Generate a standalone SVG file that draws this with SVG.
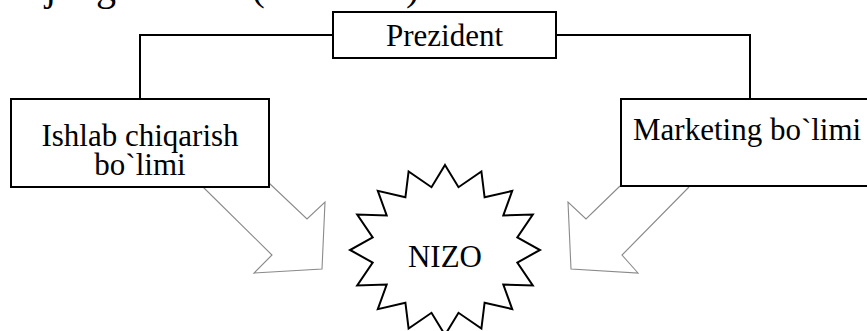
<svg xmlns="http://www.w3.org/2000/svg" width="867" height="331" viewBox="0 0 867 331">
<style>
.box{fill:#fff;stroke:#000;stroke-width:2}
.lbl{font-family:"Liberation Serif","Times New Roman",serif;font-size:31px;fill:#000}
.conn{fill:none;stroke:#000;stroke-width:2}
.arrow{fill:none;stroke:#8a8a8a;stroke-width:1.1;stroke-linejoin:miter}
</style>
<rect width="867" height="331" fill="#fff"/>
<text x="5" y="0" style="font-family:'Liberation Serif','Times New Roman',serif;font-size:40px" fill="#000">vujudga keladi (3.6-rasm).</text>
<g id="connectors">
<polyline class="conn" points="333,35 140,35 140,99"/>
<polyline class="conn" points="556,35 750,35 750,99"/>
<polyline class="arrow" points="203,187 272,255 254,273 322,269 325,202 307,219 269,183"/>
<polyline class="arrow" points="620,186 586,219 568,202 571,269 638,273 622,255 689,187"/>
</g>
<g id="prezident">
<rect class="box" x="333" y="12" width="223" height="46"/>
<text class="lbl" x="444.5" y="46" text-anchor="middle">Prezident</text>
</g>
<g id="ishlab">
<rect class="box" x="11" y="99" width="258" height="88"/>
<text class="lbl" text-anchor="middle"><tspan x="140" y="146">Ishlab chiqarish</tspan><tspan x="140" y="175">bo`limi</tspan></text>
</g>
<g id="marketing">
<rect class="box" x="621" y="99" width="260" height="87"/>
<text class="lbl" x="633" y="140">Marketing bo`limi</text>
</g>
<g id="nizo">
<polygon id="star" fill="#fff" stroke="#000" stroke-width="2" stroke-linejoin="miter" points="445.0,165.0 458.5,187.2 481.4,171.5 484.6,197.3 512.2,190.9 503.3,215.4 532.8,214.5 517.3,237.5 540.0,250.0 517.3,262.5 532.8,285.5 503.3,284.6 512.2,309.1 484.6,302.7 481.4,328.5 458.5,312.8 445.0,335.0 431.5,312.8 408.6,328.5 405.4,302.7 377.8,309.1 386.7,284.6 357.2,285.5 372.7,262.5 350.0,250.0 372.7,237.5 357.2,214.5 386.7,215.4 377.8,190.9 405.4,197.3 408.6,171.5 431.5,187.2"/>
<text class="lbl" x="445" y="267" text-anchor="middle">NIZO</text>
</g>
</svg>
